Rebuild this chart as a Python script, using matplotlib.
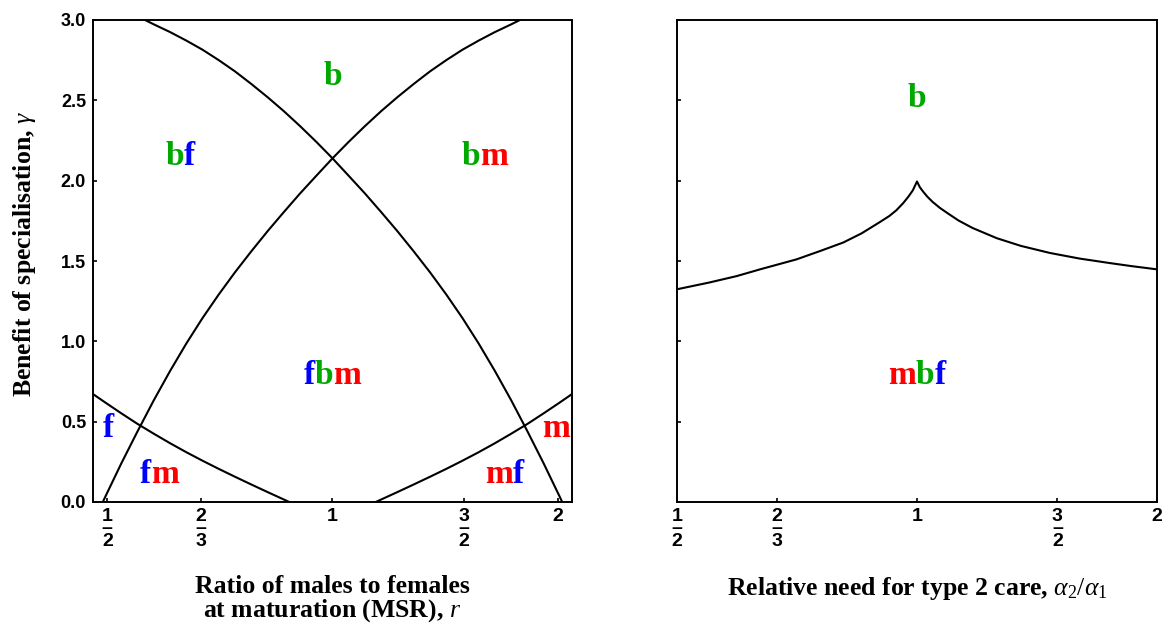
import matplotlib
matplotlib.use("Agg")
import matplotlib.pyplot as plt
import matplotlib.ticker as ticker
from matplotlib.transforms import IdentityTransform

plt.rcParams['mathtext.fontset'] = 'custom'
plt.rcParams['mathtext.rm'] = 'Liberation Serif'
plt.rcParams['mathtext.it'] = 'Liberation Serif:italic'
plt.rcParams['mathtext.bf'] = 'Liberation Serif:bold'

# boundary curves, left panel (r, gamma)
rA = [0.5616, 0.5769, 0.6065, 0.6376, 0.6703, 0.7047, 0.7408, 0.7788, 0.8187, 0.8607, 0.9048, 0.9512, 1.0000,
      1.0513, 1.1052, 1.1618, 1.2214, 1.2840, 1.3499, 1.4191, 1.4918, 1.5683, 1.6487, 1.7333, 1.8221, 1.9155,
      2.0138, 2.0279]
gA = [3.000, 2.973, 2.925, 2.872, 2.815, 2.750, 2.680, 2.602, 2.520, 2.433, 2.340, 2.242, 2.139,
      2.030, 1.920, 1.804, 1.685, 1.560, 1.430, 1.292, 1.145, 0.986, 0.815, 0.633, 0.440, 0.240,
      0.030, 0.000]
rB = [0.4931, 0.4966, 0.5220, 0.5488, 0.5769, 0.6065, 0.6376, 0.6703, 0.7047, 0.7408, 0.7788, 0.8187, 0.8607,
      0.9048, 0.9512, 1.0000, 1.0513, 1.1052, 1.1618, 1.2214, 1.2840, 1.3499, 1.4191, 1.4918, 1.5683, 1.6487,
      1.7333, 1.7806]
gB = [0.000, 0.030, 0.240, 0.440, 0.633, 0.815, 0.986, 1.145, 1.292, 1.430, 1.560, 1.685, 1.804,
      1.920, 2.030, 2.139, 2.242, 2.340, 2.433, 2.520, 2.602, 2.680, 2.750, 2.815, 2.872, 2.925,
      2.973, 3.000]
rC = [0.4781, 0.4966, 0.5220, 0.5488, 0.5769, 0.6065, 0.6376, 0.6703, 0.7047, 0.7408, 0.7788, 0.8187, 0.8754]
gC = [0.673, 0.620, 0.552, 0.486, 0.425, 0.366, 0.310, 0.257, 0.206, 0.157, 0.109, 0.062, 0.000]
rD = [1.1423, 1.2214, 1.2840, 1.3499, 1.4191, 1.4918, 1.5683, 1.6487, 1.7333, 1.8221, 1.9155, 2.0138, 2.0917]
gD = [0.000, 0.062, 0.109, 0.157, 0.206, 0.257, 0.310, 0.366, 0.425, 0.486, 0.552, 0.620, 0.673]

# right panel threshold curve
rE = [0.500, 0.5488, 0.594, 0.6376, 0.706, 0.7558, 0.8081, 0.8521, 0.8994, 0.9231, 0.9418, 0.9608, 0.9753,
      0.9881, 1.000, 1.0080, 1.0185, 1.0305, 1.0460, 1.0687, 1.0942, 1.1275, 1.1735, 1.259, 1.3499, 1.468,
      1.600, 1.746, 1.859, 2.000]
gE = [1.324, 1.366, 1.406, 1.450, 1.510, 1.562, 1.615, 1.672, 1.744, 1.780, 1.815, 1.860, 1.900,
      1.940, 1.995, 1.960, 1.930, 1.900, 1.868, 1.830, 1.795, 1.752, 1.706, 1.642, 1.594, 1.550,
      1.515, 1.487, 1.468, 1.448]

xticks = [1/2, 2/3, 1, 3/2, 2]
xticklabels = ['1\n\u2013\n2', '2\n\u2013\n3', '1', '3\n\u2013\n2', '2']
yticks = [0.0, 0.5, 1.0, 1.5, 2.0, 2.5, 3.0]

G, B, R = '#00a800', '#0000ff', '#ff0000'
# region labels: (r, gamma, [(text, colour), ...])
left_labels = [
    (1.0, 2.65, [('b', G)]),
    (0.626, 2.15, [('b', G), ('f', B)]),
    (1.596, 2.15, [('b', G), ('m', R)]),
    (1.0, 0.79, [('f', B), ('b', G), ('m', R)]),
    (0.501, 0.46, [('f', B)]),
    (0.587, 0.17, [('f', B), ('m', R)]),
    (1.99, 0.46, [('m', R)]),
    (1.697, 0.17, [('m', R), ('f', B)]),
]
right_labels = [
    (1.0, 2.51, [('b', G)]),
    (1.0, 0.79, [('m', R), ('b', G), ('f', B)]),
]

fig = plt.figure(figsize=(11.65, 6.24), dpi=100)
ax1 = fig.add_axes([93/1165, 122/624, 479/1165, 482/624])
ax2 = fig.add_axes([677/1165, 122/624, 480/1165, 482/624])

lfont = dict(family='Liberation Serif', weight='bold', size=24)
tfont = dict(family='Liberation Serif', weight='bold', size=18.5)


def put_label(ax, x, y, parts):
    # coloured letters side by side, centred on (x, y)
    fig.canvas.draw()
    rend = fig.canvas.get_renderer()
    texts = [ax.text(x, y, s, color=c, ha='left', va='center', **lfont) for s, c in parts]
    widths = [t.get_window_extent(rend).width for t in texts]
    px, py = ax.transData.transform((x, y))
    start = px - sum(widths)/2
    for t, w in zip(texts, widths):
        t.set_transform(IdentityTransform())
        t.set_position((start, py))
        start += w


for ax in (ax1, ax2):
    ax.set_xscale('log')
    ax.set_ylim(0, 3)
    ax.xaxis.set_major_locator(ticker.FixedLocator(xticks))
    ax.xaxis.set_minor_locator(ticker.NullLocator())
    ax.set_xticks(xticks)
    ax.set_xticklabels(xticklabels, family='Liberation Sans', weight='bold', fontsize=14,
                       linespacing=0.68, multialignment='center')
    ax.set_yticks(yticks)
    ax.tick_params(direction='in', length=3, width=1.2)
    ax.tick_params(axis='x', pad=4)
    for s in ax.spines.values():
        s.set_linewidth(1.4)

ax1.set_xlim(1/2.09, 2.09)
ax2.set_xlim(0.5, 2.0)

for r, g in ((rA, gA), (rB, gB), (rC, gC), (rD, gD)):
    ax1.plot(r, g, c='black', lw=1.5)
ax2.plot(rE, gE, c='black', lw=1.5)

ax1.set_yticklabels(['%.1f' % v for v in yticks], family='Liberation Sans', weight='bold', fontsize=13)
ax1.tick_params(axis='y', pad=5)
ax2.set_yticklabels([])

ax1.set_ylabel(r'Benefit of specialisation, $\gamma$', **tfont)
ax1.yaxis.set_label_coords(-0.114, 0.515)
ax1.set_xlabel('Ratio of males to females\nat maturation (MSR), $r$', linespacing=0.95, va='top', **tfont)
ax1.xaxis.set_label_coords(0.5, -0.152)
ax2.set_xlabel(r'Relative need for type 2 care, $\alpha_2/\alpha_1$', va='top', **tfont)
ax2.xaxis.set_label_coords(0.5, -0.152)

for x, y, parts in left_labels:
    put_label(ax1, x, y, parts)
for x, y, parts in right_labels:
    put_label(ax2, x, y, parts)

fig.savefig('out.png', dpi=100)
